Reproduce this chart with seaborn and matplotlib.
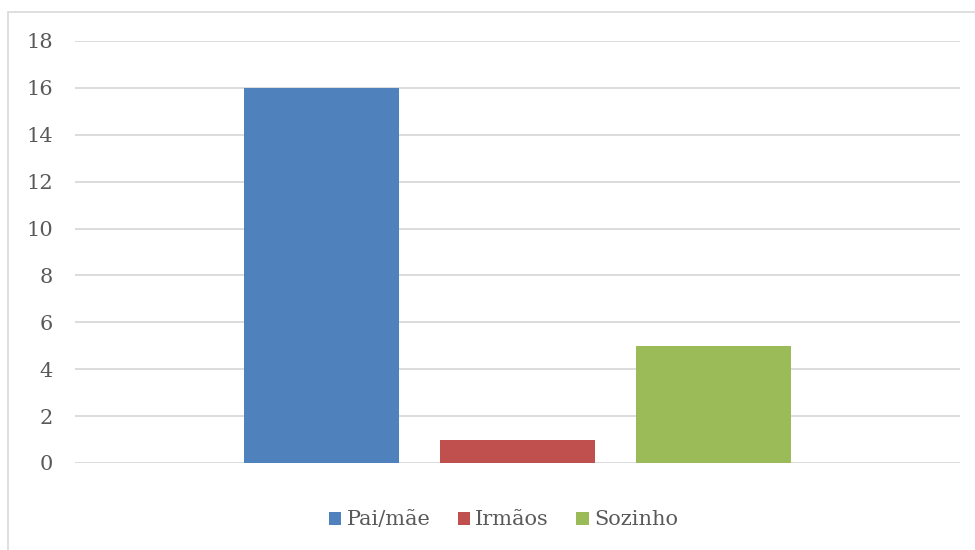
import pandas as pd
import matplotlib.pyplot as plt
import seaborn as sns
from matplotlib.patches import Rectangle

respostas = ["Pai/mãe", "Irmãos", "Sozinho"]
valores = [16, 1, 5]
cores = ["#4F81BD", "#C0504D", "#9BBB59"]
yticks = [0, 2, 4, 6, 8, 10, 12, 14, 16, 18]

df = pd.DataFrame({"grupo": [""] * len(respostas), "resposta": respostas, "valor": valores})

sns.set_style("white")
plt.rcParams["font.family"] = ["DejaVu Serif"]

fig = plt.figure(figsize=(9.75, 5.5), dpi=100)
ax = fig.add_axes([75 / 975, 87 / 550, 885 / 975, 422 / 550])

sns.barplot(data=df, x="grupo", y="valor", hue="resposta", hue_order=respostas,
            palette=cores, saturation=1, width=0.664, gap=0.21, linewidth=0, ax=ax)

ax.set_xlim(-0.5, 0.5)
ax.set_ylim(0, 18)
ax.set_yticks(yticks)
ax.set_xticks([])
ax.set_xlabel("")
ax.set_ylabel("")
ax.yaxis.grid(True, color="#d9d9d9", lw=1.3)
ax.set_axisbelow(True)
for s in ax.spines.values():
    s.set_visible(False)
ax.tick_params(axis="y", length=0, pad=16, labelsize=15, labelcolor="#595959")

sns.move_legend(ax, "center", bbox_to_anchor=(0.484, -0.135), ncol=3, frameon=False,
                title=None, fontsize=15, handlelength=0.6, handleheight=0.6,
                handletextpad=0.25, columnspacing=1.3)
for t in ax.get_legend().get_texts():
    t.set_color("#595959")
for h in ax.get_legend().legend_handles:
    h.set_linewidth(0)

# moldura cinza do gráfico (cortada à direita e embaixo)
fig.patches.append(Rectangle((8 / 975, -0.1), 1.2, 1.1 - 12 / 550, transform=fig.transFigure,
                             fill=False, edgecolor="#d9d9d9", lw=1.2))

fig.savefig("out.png", dpi=100)
